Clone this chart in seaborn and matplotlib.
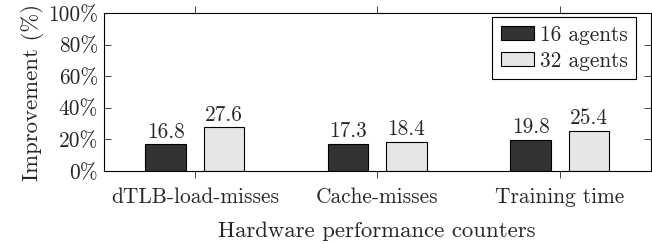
import matplotlib
matplotlib.use("Agg")
import matplotlib.pyplot as plt
import seaborn as sns
import pandas as pd

categories = ["dTLB-load-misses", "Cache-misses", "Training time"]
agents16 = [16.8, 17.3, 19.8]
agents32 = [27.6, 18.4, 25.4]
series = ["16 agents", "32 agents"]
yticks = [0, 20, 40, 60, 80, 100]
ytick_labels = ["0%", "20%", "40%", "60%", "80%", "100%"]

df = pd.DataFrame({
    "cat": categories * 2,
    "val": agents16 + agents32,
    "series": [series[0]] * 3 + [series[1]] * 3,
})

sns.set_theme(style="white")
plt.rcParams["font.family"] = ["cmr10", "DejaVu Serif"]
plt.rcParams["axes.formatter.use_mathtext"] = True
plt.rcParams["mathtext.fontset"] = "cm"

FS = 15.4
LFS = 16.4

fig = plt.figure(figsize=(6.52, 2.44), dpi=100)
ax = fig.add_axes([103.5 / 652, 1 - 171 / 244, (651 - 103.5) / 652, (171 - 13) / 244])

sns.barplot(data=df, x="cat", y="val", hue="series", order=categories,
            hue_order=series, palette=["#333333", "#e6e6e6"],
            width=0.64, gap=0.3125, edgecolor="black", linewidth=0.8,
            ax=ax, errorbar=None, saturation=1)

for c in ax.containers:
    ax.bar_label(c, fmt="%.1f", padding=2, fontsize=FS)

ax.set_xlim(-0.5, 2.5)
ax.set_ylim(0, 100)
ax.set_yticks(yticks)
ax.set_yticklabels(ytick_labels, fontsize=FS)
ax.set_xticks(range(3))
ax.set_xticklabels(categories, fontsize=FS)
ax.tick_params(axis="y", direction="in", length=5, width=0.6, left=True, right=True, pad=4)
ax.tick_params(axis="x", direction="out", length=5, width=0.6, bottom=True, top=True, pad=7)
for s in ax.spines.values():
    s.set_visible(True)
    s.set_color("black")
    s.set_linewidth(0.8)

ax.set_xlabel("Hardware performance counters", fontsize=LFS, labelpad=10)
ax.set_ylabel("Improvement (%)", fontsize=LFS, labelpad=3)

leg = ax.legend(loc="upper right", bbox_to_anchor=(0.9735, 0.977), fontsize=FS,
                frameon=True, fancybox=False, edgecolor="black", framealpha=1,
                handlelength=1.56, handleheight=0.6, handletextpad=0.27,
                borderpad=0.4, labelspacing=0.3, borderaxespad=0.0)
leg.get_frame().set_linewidth(0.8)

fig.savefig("out.png", dpi=100)
